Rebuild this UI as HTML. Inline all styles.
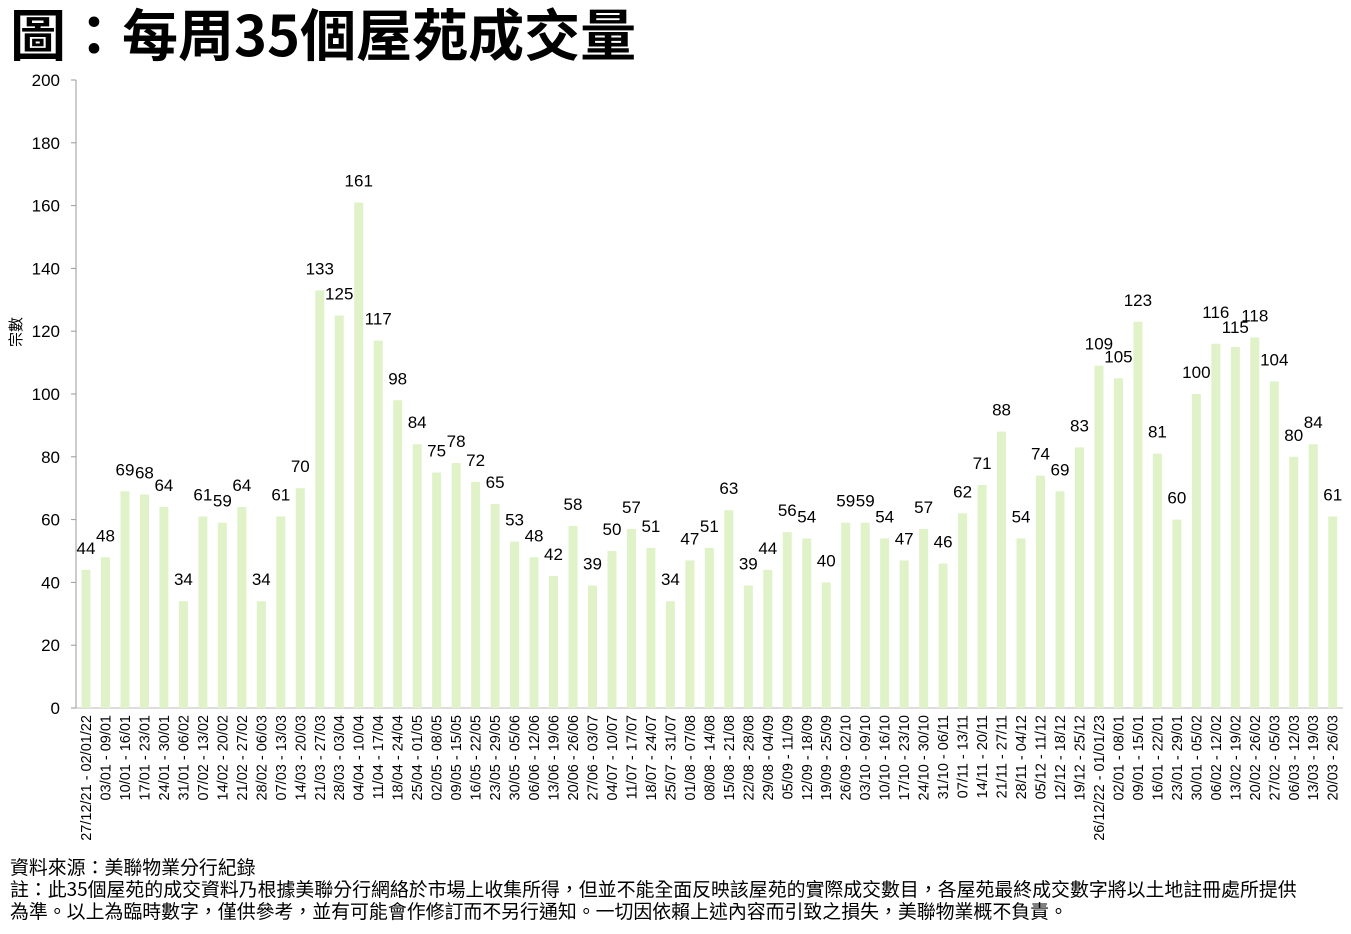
<!DOCTYPE html><html><head><meta charset="utf-8"><style>
body{margin:0;background:#fff;width:1351px;height:929px;overflow:hidden}
</style></head><body>
<svg width="1351" height="929" xmlns="http://www.w3.org/2000/svg" font-family="Liberation Sans, Noto Sans CJK TC, sans-serif">
<text x="10" y="56" font-size="56" font-weight="bold" font-family="Noto Sans CJK TC, sans-serif">圖：每周35個屋苑成交量</text>
<text transform="translate(21,332) rotate(-90)" font-size="15" text-anchor="middle" font-family="Noto Sans CJK TC, sans-serif">宗數</text>
<g font-size="18.9" font-family="Noto Sans CJK TC, sans-serif">
<text x="10" y="874">資料來源：美聯物業分行紀錄</text>
<text x="10" y="896">註：此35個屋苑的成交資料乃根據美聯分行網絡於市場上收集所得，但並不能全面反映該屋苑的實際成交數目，各屋苑最終成交數字將以土地註冊處所提供</text>
<text x="10" y="918">為準。以上為臨時數字，僅供參考，並有可能會作修訂而不另行通知。一切因依賴上述內容而引致之損失，美聯物業概不負責。</text>
</g>
<line x1="76" y1="80" x2="76" y2="708" stroke="#999"/>
<line x1="76" y1="708" x2="1343" y2="708" stroke="#bbb"/>
<g stroke="#999">
<line x1="71" x2="76" y1="708" y2="708"/><line x1="71" x2="76" y1="645.2" y2="645.2"/><line x1="71" x2="76" y1="582.4" y2="582.4"/><line x1="71" x2="76" y1="519.6" y2="519.6"/><line x1="71" x2="76" y1="456.8" y2="456.8"/><line x1="71" x2="76" y1="394" y2="394"/><line x1="71" x2="76" y1="331.2" y2="331.2"/><line x1="71" x2="76" y1="268.4" y2="268.4"/><line x1="71" x2="76" y1="205.6" y2="205.6"/><line x1="71" x2="76" y1="142.8" y2="142.8"/><line x1="71" x2="76" y1="80" y2="80"/>
</g>
<g font-size="17" text-anchor="end">
<text x="60" y="714">0</text><text x="60" y="651.2">20</text><text x="60" y="588.4">40</text><text x="60" y="525.6">60</text><text x="60" y="462.8">80</text><text x="60" y="400">100</text><text x="60" y="337.2">120</text><text x="60" y="274.4">140</text><text x="60" y="211.6">160</text><text x="60" y="148.8">180</text><text x="60" y="86">200</text>
</g>
<svg x="76" y="80" width="1267" height="628" viewBox="76 0 1267 200" preserveAspectRatio="none">
<g fill="#dff2c8">
<rect x="81.5" y="156" width="9" height="44"/>
<rect x="100.98" y="152" width="9" height="48"/>
<rect x="120.46" y="131" width="9" height="69"/>
<rect x="139.94" y="132" width="9" height="68"/>
<rect x="159.42" y="136" width="9" height="64"/>
<rect x="178.9" y="166" width="9" height="34"/>
<rect x="198.38" y="139" width="9" height="61"/>
<rect x="217.86" y="141" width="9" height="59"/>
<rect x="237.34" y="136" width="9" height="64"/>
<rect x="256.82" y="166" width="9" height="34"/>
<rect x="276.3" y="139" width="9" height="61"/>
<rect x="295.78" y="130" width="9" height="70"/>
<rect x="315.26" y="67" width="9" height="133"/>
<rect x="334.74" y="75" width="9" height="125"/>
<rect x="354.22" y="39" width="9" height="161"/>
<rect x="373.7" y="83" width="9" height="117"/>
<rect x="393.18" y="102" width="9" height="98"/>
<rect x="412.66" y="116" width="9" height="84"/>
<rect x="432.14" y="125" width="9" height="75"/>
<rect x="451.62" y="122" width="9" height="78"/>
<rect x="471.1" y="128" width="9" height="72"/>
<rect x="490.58" y="135" width="9" height="65"/>
<rect x="510.06" y="147" width="9" height="53"/>
<rect x="529.54" y="152" width="9" height="48"/>
<rect x="549.02" y="158" width="9" height="42"/>
<rect x="568.5" y="142" width="9" height="58"/>
<rect x="587.98" y="161" width="9" height="39"/>
<rect x="607.46" y="150" width="9" height="50"/>
<rect x="626.94" y="143" width="9" height="57"/>
<rect x="646.42" y="149" width="9" height="51"/>
<rect x="665.9" y="166" width="9" height="34"/>
<rect x="685.38" y="153" width="9" height="47"/>
<rect x="704.86" y="149" width="9" height="51"/>
<rect x="724.34" y="137" width="9" height="63"/>
<rect x="743.82" y="161" width="9" height="39"/>
<rect x="763.3" y="156" width="9" height="44"/>
<rect x="782.78" y="144" width="9" height="56"/>
<rect x="802.26" y="146" width="9" height="54"/>
<rect x="821.74" y="160" width="9" height="40"/>
<rect x="841.22" y="141" width="9" height="59"/>
<rect x="860.7" y="141" width="9" height="59"/>
<rect x="880.18" y="146" width="9" height="54"/>
<rect x="899.66" y="153" width="9" height="47"/>
<rect x="919.14" y="143" width="9" height="57"/>
<rect x="938.62" y="154" width="9" height="46"/>
<rect x="958.1" y="138" width="9" height="62"/>
<rect x="977.58" y="129" width="9" height="71"/>
<rect x="997.06" y="112" width="9" height="88"/>
<rect x="1016.54" y="146" width="9" height="54"/>
<rect x="1036.02" y="126" width="9" height="74"/>
<rect x="1055.5" y="131" width="9" height="69"/>
<rect x="1074.98" y="117" width="9" height="83"/>
<rect x="1094.46" y="91" width="9" height="109"/>
<rect x="1113.94" y="95" width="9" height="105"/>
<rect x="1133.42" y="77" width="9" height="123"/>
<rect x="1152.9" y="119" width="9" height="81"/>
<rect x="1172.38" y="140" width="9" height="60"/>
<rect x="1191.86" y="100" width="9" height="100"/>
<rect x="1211.34" y="84" width="9" height="116"/>
<rect x="1230.82" y="85" width="9" height="115"/>
<rect x="1250.3" y="82" width="9" height="118"/>
<rect x="1269.78" y="96" width="9" height="104"/>
<rect x="1289.26" y="120" width="9" height="80"/>
<rect x="1308.74" y="116" width="9" height="84"/>
<rect x="1328.22" y="139" width="9" height="61"/>
</g>
</svg>
<g font-size="17" text-anchor="middle" transform="translate(0,-6)">
<text x="86" y="559.8">44</text><text x="105.48" y="547.3">48</text><text x="124.96" y="481.3">69</text><text x="144.44" y="484.5">68</text><text x="163.92" y="497">64</text><text x="183.4" y="591.2">34</text><text x="202.88" y="506.5">61</text><text x="222.36" y="512.7">59</text><text x="241.84" y="497">64</text><text x="261.32" y="591.2">34</text><text x="280.8" y="506.5">61</text><text x="300.28" y="478.2">70</text><text x="319.76" y="280.4">133</text><text x="339.24" y="305.5">125</text><text x="358.72" y="192.5">161</text><text x="378.2" y="330.6">117</text><text x="397.68" y="390.3">98</text><text x="417.16" y="434.2">84</text><text x="436.64" y="462.5">75</text><text x="456.12" y="453.1">78</text><text x="475.6" y="471.9">72</text><text x="495.08" y="493.9">65</text><text x="514.56" y="531.6">53</text><text x="534.04" y="547.3">48</text><text x="553.52" y="566.1">42</text><text x="573" y="515.9">58</text><text x="592.48" y="575.5">39</text><text x="611.96" y="541">50</text><text x="631.44" y="519">57</text><text x="650.92" y="537.9">51</text><text x="670.4" y="591.2">34</text><text x="689.88" y="550.4">47</text><text x="709.36" y="537.9">51</text><text x="728.84" y="500.2">63</text><text x="748.32" y="575.5">39</text><text x="767.8" y="559.8">44</text><text x="787.28" y="522.2">56</text><text x="806.76" y="528.4">54</text><text x="826.24" y="572.4">40</text><text x="845.72" y="512.7">59</text><text x="865.2" y="512.7">59</text><text x="884.68" y="528.4">54</text><text x="904.16" y="550.4">47</text><text x="923.64" y="519">57</text><text x="943.12" y="553.6">46</text><text x="962.6" y="503.3">62</text><text x="982.08" y="475.1">71</text><text x="1001.56" y="421.7">88</text><text x="1021.04" y="528.4">54</text><text x="1040.52" y="465.6">74</text><text x="1060" y="481.3">69</text><text x="1079.48" y="437.4">83</text><text x="1098.96" y="355.7">109</text><text x="1118.44" y="368.3">105</text><text x="1137.92" y="311.8">123</text><text x="1157.4" y="443.7">81</text><text x="1176.88" y="509.6">60</text><text x="1196.36" y="384">100</text><text x="1215.84" y="324">116</text><text x="1235.32" y="339">115</text><text x="1254.8" y="327.5">118</text><text x="1274.28" y="371.4">104</text><text x="1293.76" y="446.8">80</text><text x="1313.24" y="434.2">84</text><text x="1332.72" y="506.5">61</text>
</g>
<g font-size="14.5" text-anchor="end">
<text transform="translate(91,715) rotate(-90)">27/12/21 - 02/01/22</text>
<text transform="translate(110.48,715) rotate(-90)">03/01 - 09/01</text>
<text transform="translate(129.96,715) rotate(-90)">10/01 - 16/01</text>
<text transform="translate(149.44,715) rotate(-90)">17/01 - 23/01</text>
<text transform="translate(168.92,715) rotate(-90)">24/01 - 30/01</text>
<text transform="translate(188.4,715) rotate(-90)">31/01 - 06/02</text>
<text transform="translate(207.88,715) rotate(-90)">07/02 - 13/02</text>
<text transform="translate(227.36,715) rotate(-90)">14/02 - 20/02</text>
<text transform="translate(246.84,715) rotate(-90)">21/02 - 27/02</text>
<text transform="translate(266.32,715) rotate(-90)">28/02 - 06/03</text>
<text transform="translate(285.8,715) rotate(-90)">07/03 - 13/03</text>
<text transform="translate(305.28,715) rotate(-90)">14/03 - 20/03</text>
<text transform="translate(324.76,715) rotate(-90)">21/03 - 27/03</text>
<text transform="translate(344.24,715) rotate(-90)">28/03 - 03/04</text>
<text transform="translate(363.72,715) rotate(-90)">04/04 - 10/04</text>
<text transform="translate(383.2,715) rotate(-90)">11/04 - 17/04</text>
<text transform="translate(402.68,715) rotate(-90)">18/04 - 24/04</text>
<text transform="translate(422.16,715) rotate(-90)">25/04 - 01/05</text>
<text transform="translate(441.64,715) rotate(-90)">02/05 - 08/05</text>
<text transform="translate(461.12,715) rotate(-90)">09/05 - 15/05</text>
<text transform="translate(480.6,715) rotate(-90)">16/05 - 22/05</text>
<text transform="translate(500.08,715) rotate(-90)">23/05 - 29/05</text>
<text transform="translate(519.56,715) rotate(-90)">30/05 - 05/06</text>
<text transform="translate(539.04,715) rotate(-90)">06/06 - 12/06</text>
<text transform="translate(558.52,715) rotate(-90)">13/06 - 19/06</text>
<text transform="translate(578,715) rotate(-90)">20/06 - 26/06</text>
<text transform="translate(597.48,715) rotate(-90)">27/06 - 03/07</text>
<text transform="translate(616.96,715) rotate(-90)">04/07 - 10/07</text>
<text transform="translate(636.44,715) rotate(-90)">11/07 - 17/07</text>
<text transform="translate(655.92,715) rotate(-90)">18/07 - 24/07</text>
<text transform="translate(675.4,715) rotate(-90)">25/07 - 31/07</text>
<text transform="translate(694.88,715) rotate(-90)">01/08 - 07/08</text>
<text transform="translate(714.36,715) rotate(-90)">08/08 - 14/08</text>
<text transform="translate(733.84,715) rotate(-90)">15/08 - 21/08</text>
<text transform="translate(753.32,715) rotate(-90)">22/08 - 28/08</text>
<text transform="translate(772.8,715) rotate(-90)">29/08 - 04/09</text>
<text transform="translate(792.28,715) rotate(-90)">05/09 - 11/09</text>
<text transform="translate(811.76,715) rotate(-90)">12/09 - 18/09</text>
<text transform="translate(831.24,715) rotate(-90)">19/09 - 25/09</text>
<text transform="translate(850.72,715) rotate(-90)">26/09 - 02/10</text>
<text transform="translate(870.2,715) rotate(-90)">03/10 - 09/10</text>
<text transform="translate(889.68,715) rotate(-90)">10/10 - 16/10</text>
<text transform="translate(909.16,715) rotate(-90)">17/10 - 23/10</text>
<text transform="translate(928.64,715) rotate(-90)">24/10 - 30/10</text>
<text transform="translate(948.12,715) rotate(-90)">31/10 - 06/11</text>
<text transform="translate(967.6,715) rotate(-90)">07/11 - 13/11</text>
<text transform="translate(987.08,715) rotate(-90)">14/11 - 20/11</text>
<text transform="translate(1006.56,715) rotate(-90)">21/11 - 27/11</text>
<text transform="translate(1026.04,715) rotate(-90)">28/11 - 04/12</text>
<text transform="translate(1045.52,715) rotate(-90)">05/12 - 11/12</text>
<text transform="translate(1065,715) rotate(-90)">12/12 - 18/12</text>
<text transform="translate(1084.48,715) rotate(-90)">19/12 - 25/12</text>
<text transform="translate(1103.96,715) rotate(-90)">26/12/22 - 01/01/23</text>
<text transform="translate(1123.44,715) rotate(-90)">02/01 - 08/01</text>
<text transform="translate(1142.92,715) rotate(-90)">09/01 - 15/01</text>
<text transform="translate(1162.4,715) rotate(-90)">16/01 - 22/01</text>
<text transform="translate(1181.88,715) rotate(-90)">23/01 - 29/01</text>
<text transform="translate(1201.36,715) rotate(-90)">30/01 - 05/02</text>
<text transform="translate(1220.84,715) rotate(-90)">06/02 - 12/02</text>
<text transform="translate(1240.32,715) rotate(-90)">13/02 - 19/02</text>
<text transform="translate(1259.8,715) rotate(-90)">20/02 - 26/02</text>
<text transform="translate(1279.28,715) rotate(-90)">27/02 - 05/03</text>
<text transform="translate(1298.76,715) rotate(-90)">06/03 - 12/03</text>
<text transform="translate(1318.24,715) rotate(-90)">13/03 - 19/03</text>
<text transform="translate(1337.72,715) rotate(-90)">20/03 - 26/03</text>
</g>
</svg>
</body></html>
